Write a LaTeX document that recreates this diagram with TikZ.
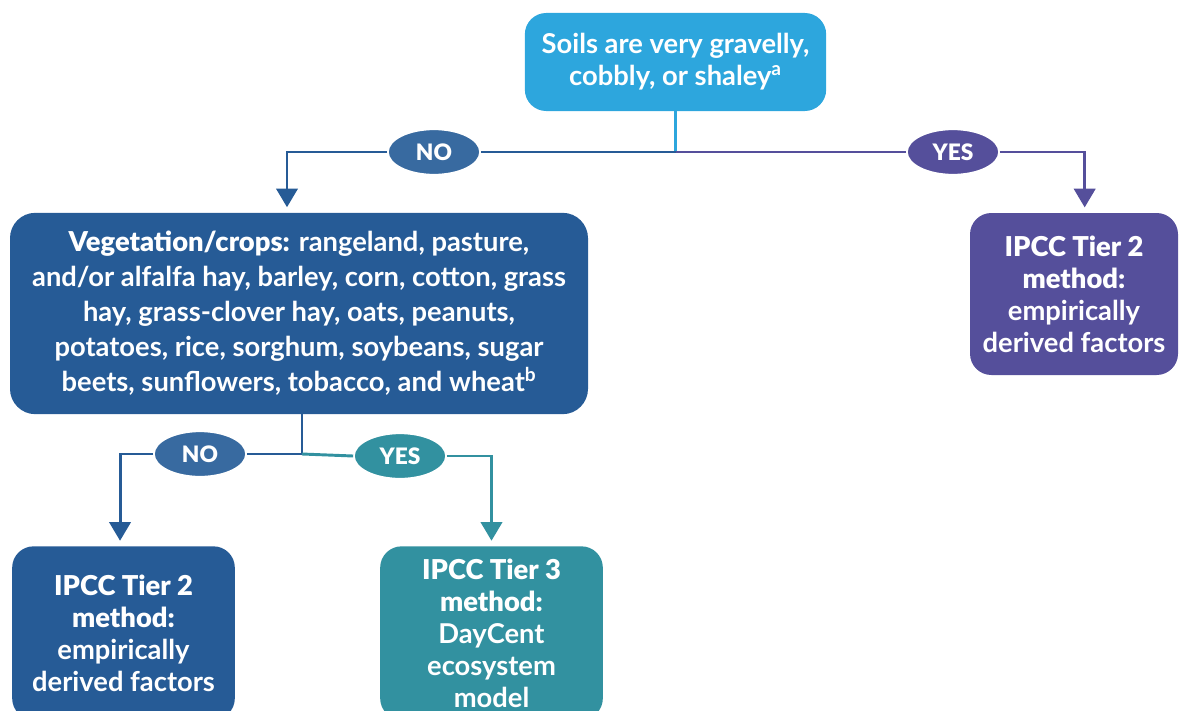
\documentclass[tikz,border=0pt]{standalone}
\usepackage{fontspec}
\setmainfont{Lato}[UprightFont=* Bold, BoldFont=* Black]
\usetikzlibrary{arrows.meta,shapes.geometric}
\definecolor{skyblue}{RGB}{45,166,221}
\definecolor{dkblue}{RGB}{38,91,150}
\definecolor{noblue}{RGB}{56,106,160}
\definecolor{violet}{RGB}{85,79,155}
\definecolor{teal}{RGB}{50,145,160}

\begin{document}
\begin{tikzpicture}[x=0.75pt, y=-0.75pt,
		box/.style={rounded corners=16pt, text=white, align=center, inner sep=0pt},
		choice/.style={ellipse, draw=white, line width=1.2pt, text=white, inner sep=0pt,
			minimum width=69pt, minimum height=34pt, font=\bfseries\fontsize{17}{18}\selectfont},
		link/.style={line width=2.2pt},
		arrowed/.style={-{Triangle[width=16pt,length=14pt]}, shorten >=4pt}]
	
	\useasboundingbox (0,0) rectangle (1180,710);
	
	% Boites
	\node[box, fill=skyblue, minimum width=226pt, minimum height=73.5pt,
	font=\fontsize{20.5}{24}\selectfont] (soils) at (675.5,62)
	{Soils are very gravelly,\\ cobbly, or shaley\textsuperscript{a}};
	\node[box, fill=dkblue, minimum width=433.5pt, minimum height=151pt, rounded corners=19pt,
	font=\fontsize{20.5}{26.2}\selectfont] (veg) at (299,313.5)
	{\textbf{Vegetation/crops:} rangeland, pasture,\\ and/or alfalfa hay, barley, corn, cotton, grass\\
		hay, grass-clover hay, oats, peanuts,\\ potatoes, rice, sorghum, soybeans, sugar\\
		beets, sunflowers, tobacco, and wheat\textsuperscript{b}};
	\node[box, fill=violet, minimum width=156pt, minimum height=121.5pt,
	font=\fontsize{20.5}{24}\selectfont] (tierB) at (1074,294)
	{\textbf{IPCC Tier 2}\\ \textbf{method:}\\ empirically\\ derived factors};
	\node[box, fill=dkblue, minimum width=167pt, minimum height=130pt,
	font=\fontsize{20.5}{24}\selectfont] (tierA) at (123.5,633)
	{\textbf{IPCC Tier 2}\\ \textbf{method:}\\ empirically\\ derived factors};
	\node[box, fill=teal, minimum width=167pt, minimum height=130pt,
	font=\fontsize{20.5}{24}\selectfont] (tierC) at (491.5,633)
	{\textbf{IPCC Tier 3}\\ \textbf{method:}\\ DayCent\\ ecosystem\\ model};
	
	% Choix
	\coordinate (split1) at (675.5,152);
	\coordinate (split2) at (302,454);
	\node[choice, fill=noblue] (no1) at (434,152) {NO};
	\node[choice, fill=violet] (yes1) at (953,152) {YES};
	\node[choice, fill=noblue] (no2) at (200,454) {NO};
	\node[choice, fill=teal] (yes2) at (400,456) {YES};
	
	% Liens
	\draw[link, skyblue] (soils.south) -- (split1);
	\draw[link, dkblue] (split1) -- (no1.east);
	\draw[link, dkblue, arrowed] (no1.west) -| ([xshift=-9pt]veg.north);
	\draw[link, violet] (split1) -- (yes1.west);
	\draw[link, violet, arrowed] (yes1.east) -| ([xshift=8pt]tierB.north);
	
	\draw[link, dkblue] (veg.south -| split2) -- (split2) -- (no2.east);
	\draw[link, dkblue, arrowed] (no2.west) -| ([xshift=-2.6pt]tierA.north);
	\draw[link, teal] (split2) -- (yes2.west);
	\draw[link, teal, arrowed] (yes2.east) -| (tierC.north);
	
\end{tikzpicture}
\end{document}
